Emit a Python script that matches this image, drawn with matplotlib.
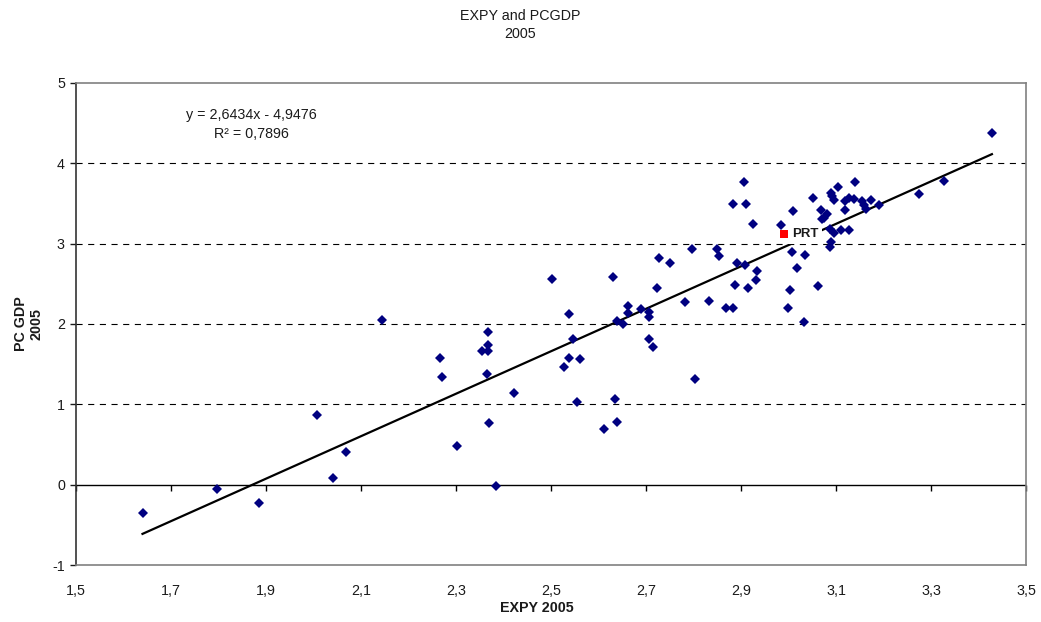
"""
EXPY vs per-capita GDP, 2005 - scatter with linear trendline
"""
import numpy as np
import matplotlib.pyplot as plt
from matplotlib.ticker import FuncFormatter

plt.rcParams['font.family'] = ['Liberation Sans', 'DejaVu Sans']

# Country observations (EXPY 2005, PC GDP 2005)
expy = [
    1.640, 1.797, 1.886, 2.007, 2.040, 2.068, 2.145, 2.266, 2.271, 2.303,
    2.354, 2.367, 2.367, 2.367, 2.366, 2.369, 2.385, 2.421, 2.501, 2.538,
    2.546, 2.538, 2.528, 2.561, 2.555, 2.630, 2.612, 2.635, 2.638, 2.638,
    2.652, 2.663, 2.663, 2.690, 2.707, 2.707, 2.707, 2.715, 2.723, 2.728,
    2.751, 2.782, 2.802, 2.796, 2.833, 2.849, 2.853, 2.869, 2.882, 2.884,
    2.888, 2.892, 2.906, 2.908, 2.911, 2.915, 2.926, 2.931, 2.933, 2.983,
    2.998, 3.002, 3.007, 3.010, 3.018, 3.032, 3.035, 3.051, 3.062, 3.069,
    3.070, 3.074, 3.080, 3.087, 3.089, 3.088, 3.089, 3.092, 3.096, 3.096,
    3.105, 3.110, 3.118, 3.119, 3.127, 3.128, 3.137, 3.139, 3.154, 3.159,
    3.162, 3.173, 3.191, 3.274, 3.328, 3.428,
]
pcgdp = [
    -0.348, -0.054, -0.224, 0.871, 0.079, 0.402, 2.046, 1.574, 1.341, 0.481,
    1.658, 1.903, 1.737, 1.658, 1.381, 0.763, -0.017, 1.136, 2.558, 2.123,
    1.816, 1.576, 1.459, 1.563, 1.032, 2.579, 0.692, 1.061, 0.784, 2.040,
    1.998, 2.226, 2.131, 2.185, 2.152, 2.085, 1.816, 1.708, 2.454, 2.820,
    2.761, 2.276, 1.318, 2.932, 2.289, 2.932, 2.852, 2.205, 2.205, 3.499,
    2.491, 2.757, 3.769, 2.740, 3.491, 2.450, 3.250, 2.546, 2.662, 3.234,
    2.205, 2.417, 2.898, 3.408, 2.703, 2.027, 2.864, 3.566, 2.471, 3.416,
    3.304, 3.325, 3.366, 2.964, 3.018, 3.180, 3.636, 3.595, 3.549, 3.138,
    3.705, 3.168, 3.532, 3.417, 3.574, 3.172, 3.553, 3.769, 3.537, 3.482,
    3.429, 3.545, 3.478, 3.615, 3.781, 4.382,
]

# Portugal, highlighted separately
prt_label = 'PRT'
prt_expy = [2.990]
prt_pcgdp = [3.118]

# Linear trendline
slope = 2.6434
intercept = -4.9476
r_squared = 0.7896

x_ticks = [1.5, 1.7, 1.9, 2.1, 2.3, 2.5, 2.7, 2.9, 3.1, 3.3, 3.5]
y_ticks = [-1, 0, 1, 2, 3, 4, 5]
grid_levels = [1, 2, 3, 4]

FS = 10.3
TXT = '#1a1a1a'


def comma(v, pos=None):
    return f'{v:g}'.replace('.', ',')


fig = plt.figure(figsize=(10.41, 6.22), dpi=100)
fig.patch.set_facecolor('white')
ax = fig.add_axes([0.073, 0.0916, 0.9127, 0.775])

ax.set_xlim(1.5, 3.5)
ax.set_ylim(-1, 5)

# Dashed gridlines
ax.hlines(grid_levels, 1.5, 3.5, colors='#000000', linestyles=(0, (5.5, 5)),
          linewidth=0.8, zorder=1)
ax.axhline(0, color='black', linewidth=1, zorder=1.5)

# Trendline over the data range
all_x = np.array(expy + prt_expy)
tx = np.array([all_x.min(), all_x.max()])
ax.plot(tx, slope * tx + intercept, color='black', linewidth=1.6, zorder=2)

ax.plot(expy, pcgdp, linestyle='none', marker='D', markersize=4.8,
        color='#000080', markeredgewidth=0, zorder=4)
ax.plot(prt_expy, prt_pcgdp, linestyle='none', marker='s', markersize=6,
        color='#ff0000', markeredgewidth=0, zorder=4)
ax.annotate(prt_label, (prt_expy[0], prt_pcgdp[0]), xytext=(6, 0),
            textcoords='offset points', ha='left', va='center',
            fontsize=9.5, fontweight='bold', color=TXT, zorder=3,
            bbox=dict(boxstyle='square,pad=0.3', facecolor='white',
                      edgecolor='none'))

# Trendline equation
eq = f'y = {comma(round(slope, 4))}x - {comma(round(abs(intercept), 4))}'
ax.text(0.1847, 0.914, eq + '\n' + f'R² = {comma(r_squared)}', transform=ax.transAxes,
        ha='center', va='center', multialignment='center', fontsize=FS,
        linespacing=1.5, color=TXT)

# Axes frame
for side in ['top', 'right', 'bottom']:
    ax.spines[side].set_color('#808080')
    ax.spines[side].set_linewidth(1.2)
ax.spines['left'].set_color('#333333')
ax.spines['left'].set_linewidth(1.2)

ax.set_yticks(y_ticks)
ax.yaxis.set_major_formatter(FuncFormatter(comma))
ax.tick_params(axis='y', direction='out', length=4, width=1, pad=4,
               labelsize=FS, colors=TXT)
ax.set_xticks(x_ticks)
ax.xaxis.set_major_formatter(FuncFormatter(comma))
ax.tick_params(axis='x', length=0, pad=14, labelsize=FS, colors=TXT)

# Tick marks sit on the zero line
zero_axis = ax.secondary_xaxis(1 / 6)
zero_axis.set_xticks(x_ticks)
zero_axis.tick_params(direction='out', length=4, width=1, labelbottom=False,
                      color='black')
zero_axis.spines['bottom'].set_visible(False)

fig.text(0.5, 0.986, 'EXPY and PCGDP\n2005', ha='center', va='top',
         multialignment='center', fontsize=FS, linespacing=1.4, color=TXT)
fig.text(0.516, 0.022, 'EXPY 2005', ha='center', va='center', fontsize=FS,
         fontweight='bold', color=TXT)
fig.text(0.0276, 0.479, 'PC GDP\n2005', ha='center', va='center', rotation=90,
         multialignment='center', fontsize=FS, fontweight='bold', linespacing=1.2,
         color=TXT)

plt.savefig('out.png', dpi=100, facecolor='white')
plt.close()
